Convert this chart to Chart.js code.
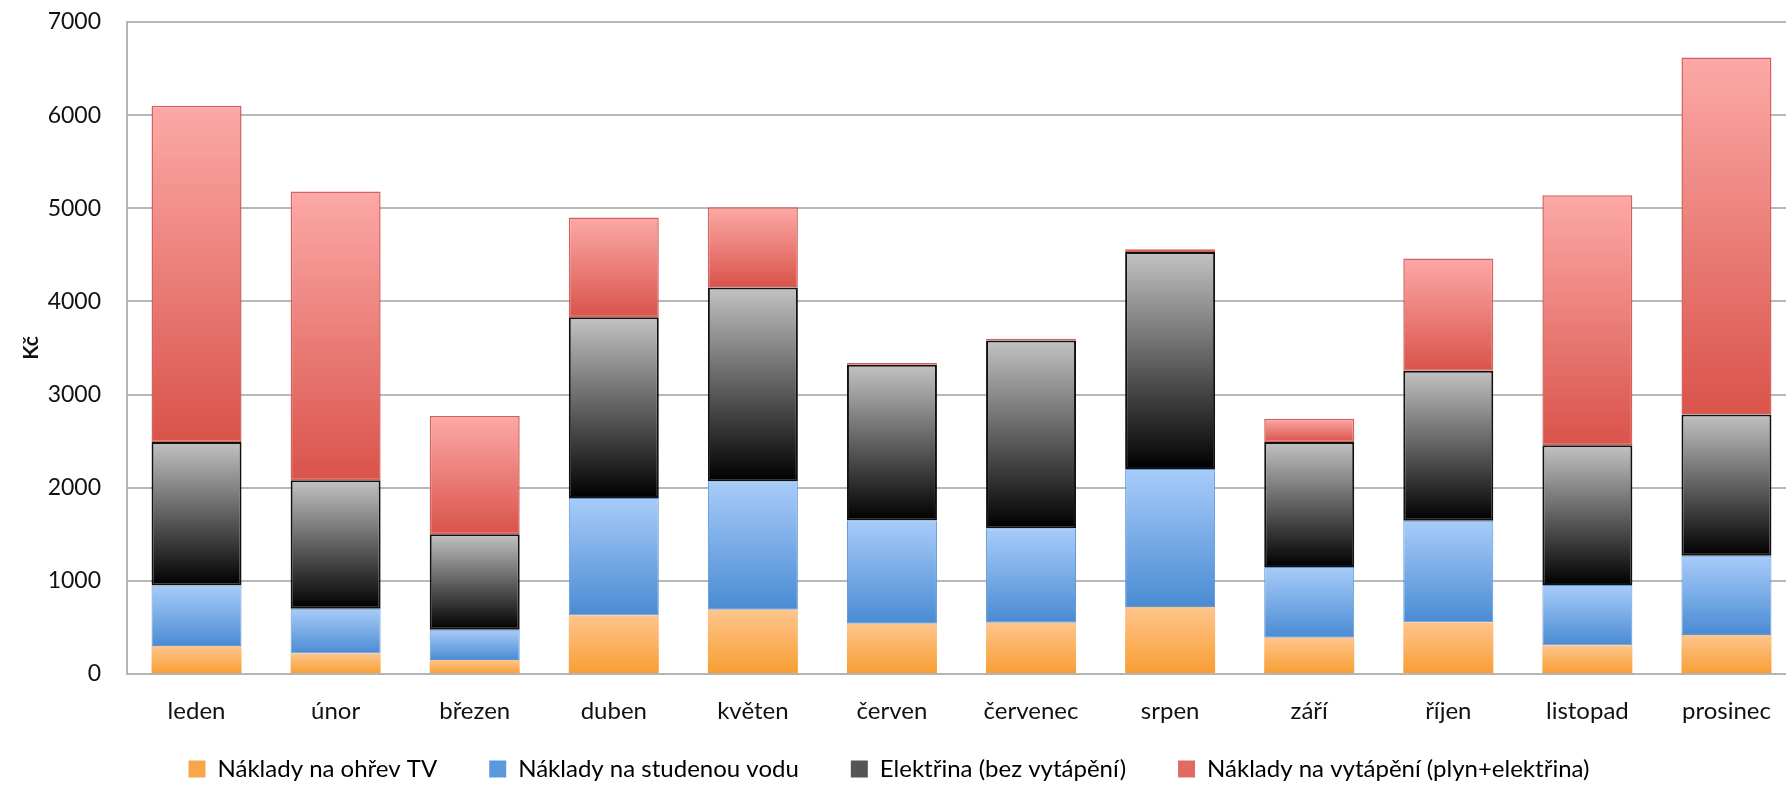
<!DOCTYPE html>
<html><head><meta charset="utf-8">
<script src="https://cdn.jsdelivr.net/npm/chart.js@4/dist/chart.umd.min.js"></script>
<style>
html,body{margin:0;padding:0;background:#fff;overflow:hidden;width:1786px;height:786px}
#wrap{width:1800px;height:786px;position:relative}
</style></head>
<body><div id="wrap"><canvas id="c" width="1800" height="786"></canvas></div>
<script>
const categories = ['leden','únor','březen','duben','květen','červen','červenec','srpen','září','říjen','listopad','prosinec'];
const seriesNames = ['Náklady na ohřev TV','Náklady na studenou vodu','Elektřina (bez vytápění)','Náklady na vytápění (plyn+elektřina)'];
const hotWater  = [300, 220, 150, 630, 690, 540, 550, 720, 390, 555, 310, 420];
const coldWater = [650, 480, 325, 1260, 1380, 1110, 1015, 1480, 760, 1090, 645, 850];
const electricity = [1540, 1380, 1025, 1940, 2080, 1670, 2015, 2330, 1340, 1610, 1500, 1515];
const heating = [3610, 3100, 1270, 1070, 860, 20, 20, 30, 250, 1205, 2685, 3835];
const yMin = 0, yMax = 7000, yStep = 1000;
const yTitle = 'Kč';

function grad(top, bottom){
  return (ctx) => {
    const chart = ctx.chart;
    if (!chart.chartArea || !chart.scales.y) return bottom;
    const ys = chart.scales.y;
    const ds = ctx.datasetIndex, i = ctx.dataIndex;
    if (i === undefined) return bottom;
    let base = 0;
    for (let k = 0; k < ds; k++) base += chart.data.datasets[k].data[i];
    const v = chart.data.datasets[ds].data[i];
    const y0 = ys.getPixelForValue(base + v), y1 = ys.getPixelForValue(base);
    if (!isFinite(y0) || !isFinite(y1) || Math.abs(y1 - y0) < 0.5) return bottom;
    const g = chart.ctx.createLinearGradient(0, y0, 0, y1);
    g.addColorStop(0, top); g.addColorStop(1, bottom);
    return g;
  };
}

const font = "Lato, 'Open Sans', sans-serif";
const chart = new Chart(document.getElementById('c'), {
  type: 'bar',
  data: {
    labels: categories,
    datasets: [
      {label: seriesNames[0], data: hotWater, backgroundColor: grad('#FEC58C', '#F89E33'), borderWidth: 0, legendColor: '#F9A54A'},
      {label: seriesNames[1], data: coldWater, backgroundColor: grad('#A8CCF9', '#4A8BD3'), borderColor: '#5D96D6', borderWidth: 1, borderSkipped: false, legendColor: '#5B99DE'},
      {label: seriesNames[2], data: electricity, backgroundColor: grad('#C2C2C2', '#000000'), borderColor: '#111111', borderWidth: 2, borderSkipped: false, legendColor: '#555555'},
      {label: seriesNames[3], data: heating, backgroundColor: grad('#FCA9A7', '#D9534A'), borderColor: '#D6605C', borderWidth: 1.5, borderSkipped: false, legendColor: '#E26A64'}
    ]
  },
  options: {
    responsive: false,
    animation: false,
    devicePixelRatio: 1,
    layout: {autoPadding: false, padding: {left: 0, right: 4, top: 22, bottom: -5}},
    datasets: {bar: {categoryPercentage: 1, barPercentage: 0.647}},
    scales: {
      x: {
        stacked: true,
        grid: {display: false, drawTicks: false},
        border: {display: true, color: '#B4B4B4', width: 2},
        ticks: {font: {family: font, size: 24}, color: '#111', padding: 23, maxRotation: 0},
        afterFit: (s) => { s.height = 67; s.paddingLeft = 0; s.paddingRight = 0; }
      },
      y: {
        stacked: true,
        min: yMin, max: yMax,
        grid: {color: '#B8B8B8', lineWidth: 2, drawTicks: false},
        border: {display: true, color: '#B4B4B4', width: 2},
        ticks: {stepSize: yStep, font: {family: font, size: 23}, color: '#111', padding: 26, callback: (v) => String(v)},
        title: {display: true, text: yTitle, font: {family: font, size: 21, weight: 'bold'}, color: '#111', padding: {top: 19, bottom: 0}},
        afterFit: (s) => { s.width = 127; s.paddingTop = 0; s.paddingBottom = 0; }
      }
    },
    plugins: {
      tooltip: {enabled: false},
      legend: {
        position: 'bottom',
        labels: {
          font: {family: font, size: 24}, color: '#111',
          boxWidth: 17, boxHeight: 17, padding: 16,
          generateLabels: (chart) => chart.data.datasets.map((d, i, arr) => ({
            text: d.label + (i < arr.length - 1 ? '\u2003\u2003' : '\u2003'),
            fillStyle: d.legendColor, strokeStyle: d.legendColor, lineWidth: 0, hidden: false, datasetIndex: i
          }))
        }
      }
    }
  }
});
</script>
</body></html>
